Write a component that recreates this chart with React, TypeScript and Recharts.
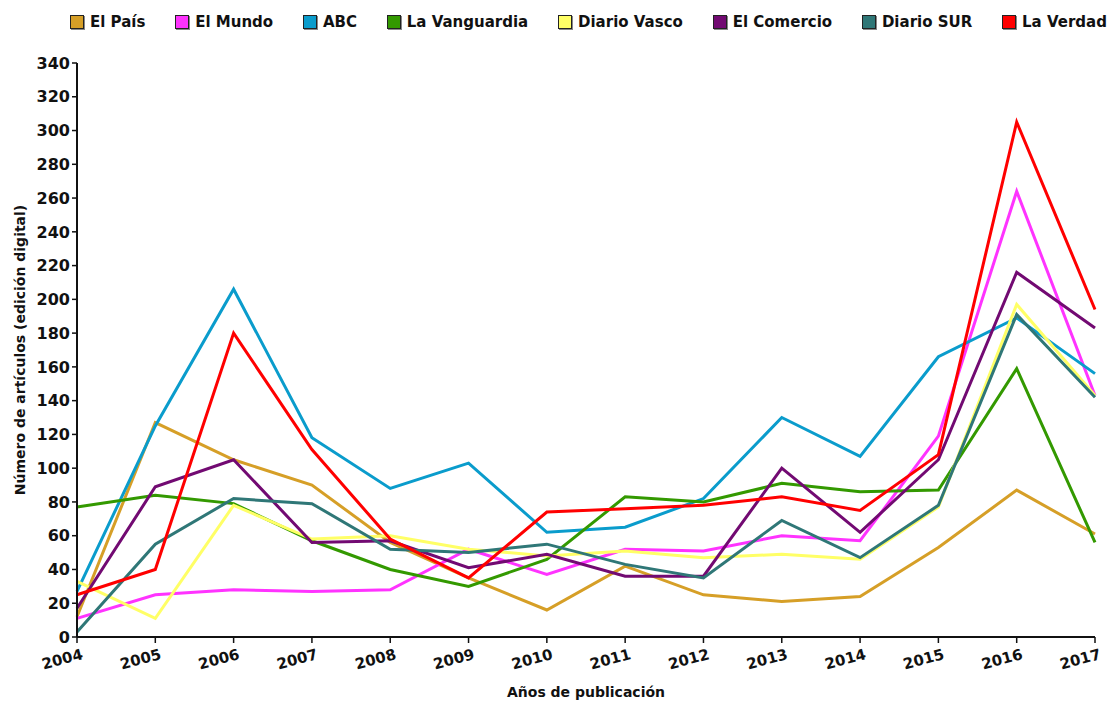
import { LineChart, Line, XAxis, YAxis, CartesianGrid } from 'recharts';

const years = ['2004', '2005', '2006', '2007', '2008', '2009', '2010', '2011', '2012', '2013', '2014', '2015', '2016', '2017'];

const elPais = [12, 127, 105, 90, 56, 35, 16, 42, 25, 21, 24, 53, 87, 61];
const elMundo = [11, 25, 28, 27, 28, 52, 37, 52, 51, 60, 57, 119, 264, 143];
const abc = [27, 125, 206, 118, 88, 103, 62, 65, 82, 130, 107, 166, 189, 156];
const laVanguardia = [77, 84, 79, 57, 40, 30, 46, 83, 80, 91, 86, 87, 159, 56];
const diarioVasco = [33, 11, 78, 58, 60, 52, 48, 51, 47, 49, 46, 77, 197, 143];
const elComercio = [17, 89, 105, 56, 57, 41, 49, 36, 36, 100, 62, 105, 216, 183];
const diarioSur = [3, 55, 82, 79, 52, 50, 55, 43, 35, 69, 47, 78, 191, 142];
const laVerdad = [25, 40, 180, 111, 58, 35, 74, 76, 78, 83, 75, 108, 305, 194];

const yTicks = [0, 20, 40, 60, 80, 100, 120, 140, 160, 180, 200, 220, 240, 260, 280, 300, 320, 340];

const series = [
  { key: 'elPais', name: 'El País', color: '#D69F27', values: elPais },
  { key: 'elMundo', name: 'El Mundo', color: '#FF33FF', values: elMundo },
  { key: 'abc', name: 'ABC', color: '#0A9CCC', values: abc },
  { key: 'laVanguardia', name: 'La Vanguardia', color: '#339900', values: laVanguardia },
  { key: 'diarioVasco', name: 'Diario Vasco', color: '#FFFF66', values: diarioVasco },
  { key: 'elComercio', name: 'El Comercio', color: '#720A72', values: elComercio },
  { key: 'diarioSur', name: 'Diario SUR', color: '#2F7777', values: diarioSur },
  { key: 'laVerdad', name: 'La Verdad', color: '#FF0000', values: laVerdad },
];

const data = years.map((year, i) => {
  const row: Record<string, string | number> = { year };
  series.forEach((s) => {
    row[s.key] = s.values[i];
  });
  return row;
});

const FONT = '"DejaVu Sans", sans-serif';

function YearTick(props: any) {
  const { x, y, payload } = props;
  return (
    <g transform={`translate(${x},${y})`}>
      <text
        x={3}
        y={0}
        dy={15}
        textAnchor="end"
        transform="rotate(-15)"
        fill="#111"
        fontSize={15}
        fontWeight="bold"
        fontFamily={FONT}
      >
        {payload.value}
      </text>
    </g>
  );
}

export default function App() {
  return (
    <div style={{ position: 'absolute', left: 0, top: 0, width: 1113, height: 704, background: '#fff', fontFamily: FONT }}>
      {/* legend */}
      <div
        style={{
          position: 'absolute',
          top: 13,
          left: 70,
          width: 1037,
          display: 'flex',
          justifyContent: 'space-between',
          fontSize: 15,
          fontWeight: 'bold',
          color: '#111',
        }}
      >
        {series.map((s) => (
          <div key={s.key} style={{ display: 'flex', alignItems: 'center', whiteSpace: 'nowrap' }}>
            <span
              style={{
                display: 'inline-block',
                width: 12,
                height: 12,
                background: s.color,
                border: '1px solid #222',
                boxShadow: '1px 1px 0 #888',
                marginRight: 6,
              }}
            />
            {s.name}
          </div>
        ))}
      </div>

      <LineChart
        width={1113}
        height={704}
        data={data}
        margin={{ top: 63, right: 18, bottom: 17, left: 27 }}
      >
        <CartesianGrid horizontal={false} vertical={false} />
        <XAxis
          dataKey="year"
          height={50}
          tick={<YearTick />}
          interval={0}
          axisLine={{ stroke: '#111', strokeWidth: 2 }}
          tickLine={{ stroke: '#111', strokeWidth: 1.5 }}
          tickSize={6}
          label={{
            value: 'Años de publicación',
            position: 'insideBottom',
            offset: -10,
            fill: '#111',
            fontSize: 14,
            fontWeight: 'bold',
            fontFamily: FONT,
          }}
        />
        <XAxis xAxisId="top" dataKey="year" orientation="top" height={0} tick={false} tickLine={false} axisLine={{ stroke: '#222', strokeWidth: 1.5 }} />
        <YAxis
          width={50}
          domain={[0, 340]}
          ticks={yTicks}
          interval={0}
          axisLine={{ stroke: '#111', strokeWidth: 2 }}
          tickLine={{ stroke: '#111', strokeWidth: 1.5 }}
          tickSize={5}
          tick={{ fill: '#111', fontSize: 16, fontWeight: 'bold', fontFamily: FONT }}
          label={{
            value: 'Número de artículos (edición digital)',
            angle: -90,
            position: 'insideLeft',
            offset: -7,
            style: { textAnchor: 'middle' },
            fill: '#111',
            fontSize: 14,
            fontWeight: 'bold',
            fontFamily: FONT,
          }}
        />
        <YAxis yAxisId="right" orientation="right" width={0} domain={[0, 340]} tick={false} tickLine={false} axisLine={{ stroke: '#555', strokeWidth: 1.5 }} />
        {series.map((s) => (
          <Line
            key={s.key}
            type="linear"
            dataKey={s.key}
            name={s.name}
            stroke={s.color}
            strokeWidth={3}
            dot={false}
            isAnimationActive={false}
          />
        ))}
      </LineChart>
    </div>
  );
}
